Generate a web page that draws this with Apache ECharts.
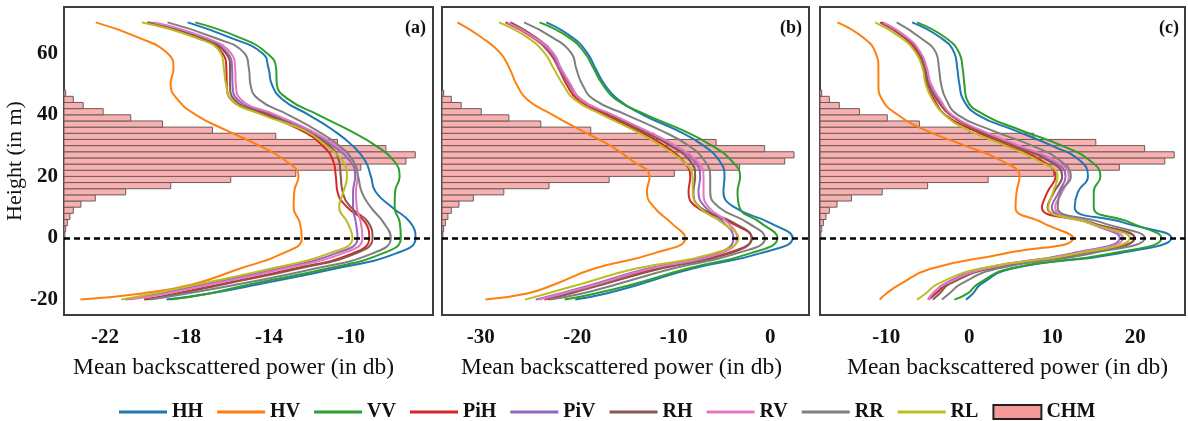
<!DOCTYPE html>
<html>
<head>
<meta charset="utf-8">
<script src="https://cdn.jsdelivr.net/npm/echarts@6/dist/echarts.min.js"></script>
<style>
  html, body { margin: 0; padding: 0; background: #fff; }
  #myChart { width: 1188px; height: 421px; }
</style>
</head>
<body>
<div id="myChart"></div>
<script>
// heights (m) at which the profiles were read
const heights = [-20, -18, -15, -10, -5, 0, 5, 10, 15, 20, 25, 30, 35, 40, 45, 50, 55, 60, 65, 70];

// panel (a) mean backscattered power (db)
const HH_a  = [-19.0, -16.9, -14.5, -10.8, -7.8, -6.85, -7.1, -8.0, -8.8, -9.03, -9.3, -9.93, -10.87, -12.07, -13.34, -13.87, -14.02, -14.32, -15.86, -17.97];
const HV_a  = [-23.2, -20.2, -17.7, -15.45, -13.33, -12.4, -12.5, -12.8, -12.77, -12.56, -13.18, -14.48, -16.1, -17.57, -18.46, -18.8, -18.66, -18.95, -20.33, -22.45];
const VV_a  = [-18.8, -16.9, -14.9, -11.2, -8.46, -7.57, -7.62, -7.87, -7.85, -7.63, -7.9, -8.8, -10.1, -11.6, -13.05, -13.62, -13.65, -14.1, -15.4, -17.6];
const PiH_a = [-20.1, -18.5, -16.35, -12.8, -9.93, -9.11, -9.3, -10.19, -10.66, -10.74, -10.87, -11.39, -12.45, -14.15, -15.86, -16.06, -16.08, -16.27, -17.41, -19.93];
const PiV_a = [-21.0, -19.3, -17.15, -13.6, -10.74, -9.68, -9.76, -9.9, -9.9, -9.8, -10.05, -10.9, -12.12, -13.83, -15.54, -15.78, -15.8, -16.02, -17.24, -19.85];
const RH_a  = [-20.0, -18.3, -16.2, -12.6, -9.76, -8.95, -9.15, -10.01, -10.41, -10.5, -10.58, -11.07, -12.28, -13.99, -15.7, -15.9, -15.9, -16.11, -17.33, -19.93];
const RV_a  = [-20.8, -19.0, -16.8, -13.3, -10.41, -9.44, -9.52, -9.72, -9.76, -9.68, -9.9, -10.74, -12.0, -13.67, -15.37, -15.62, -15.65, -15.86, -17.08, -19.6];
const RR_a  = [-19.8, -18.0, -15.5, -11.8, -8.95, -8.06, -8.41, -9.04, -9.48, -9.65, -9.89, -10.58, -11.7, -13.06, -14.5, -14.91, -14.98, -15.2, -16.65, -18.95];
const RL_a  = [-21.2, -19.64, -17.46, -13.93, -11.07, -9.93, -10.17, -10.58, -10.37, -10.2, -10.41, -11.23, -12.3, -14.32, -15.86, -16.1, -16.2, -16.35, -17.57, -20.2];

// panel (b)
const HH_b  = [-20.2, -17.0, -13.5, -8.15, -1.07, 2.31, -0.1, -3.73, -4.86, -4.75, -5.26, -6.93, -9.7, -13.2, -15.8, -17.2, -18.1, -18.95, -20.45, -23.2];
const HV_b  = [-29.5, -25.2, -22.3, -18.3, -12.09, -8.82, -10.3, -12.05, -12.78, -12.5, -14.27, -16.57, -19.64, -22.54, -25.19, -26.3, -27.0, -27.95, -29.85, -32.4];
const VV_b  = [-21.3, -18.1, -14.2, -8.65, -2.1, 0.73, -1.03, -3.2, -3.4, -3.13, -4.0, -6.06, -9.1, -12.85, -16.0, -17.4, -18.3, -19.2, -20.8, -23.9];
const PiH_b = [-23.4, -21.06, -17.6, -11.78, -4.51, -1.93, -4.1, -7.61, -8.47, -8.3, -9.06, -10.99, -13.82, -17.02, -19.95, -21.13, -21.92, -22.85, -24.57, -27.43];
const PiV_b = [-24.3, -21.8, -18.3, -12.81, -5.54, -3.82, -4.8, -6.75, -7.44, -7.27, -7.89, -10.03, -13.13, -16.5, -19.68, -20.88, -21.85, -22.68, -24.4, -26.9];
const RH_b  = [-23.0, -20.7, -17.26, -11.43, -4.16, -1.93, -3.82, -7.27, -7.96, -7.79, -8.3, -10.37, -13.47, -16.68, -19.61, -20.78, -21.68, -22.5, -24.23, -26.9];
const RV_b  = [-24.0, -21.47, -17.95, -12.47, -5.2, -3.46, -4.4, -6.4, -6.92, -6.92, -7.61, -9.85, -12.96, -16.3, -19.68, -20.71, -21.68, -22.5, -24.4, -27.26];
const RR_b  = [-22.8, -19.5, -15.9, -10.2, -3.48, -0.55, -2.37, -5.33, -6.23, -6.23, -6.8, -8.47, -11.4, -14.9, -18.3, -19.5, -20.1, -20.6, -22.5, -25.5];
const RL_b  = [-25.4, -23.1, -19.68, -14.03, -5.89, -3.3, -5.0, -7.37, -8.03, -8.06, -9.13, -11.33, -14.15, -17.4, -20.3, -21.5, -22.44, -23.37, -25.09, -28.1];

// panel (c)
const HH_c  = [-0.4, 0.44, 1.4, 5.05, 17.93, 24.36, 18.6, 12.7, 13.1, 14.3, 13.4, 9.91, 5.4, 1.0, -0.75, -1.2, -1.45, -1.8, -3.45, -6.9];
const HV_c  = [-10.8, -10.0, -8.33, -4.68, 4.29, 12.52, 8.8, 5.57, 5.7, 6.06, 3.93, -0.53, -5.3, -8.63, -10.52, -10.96, -10.96, -11.28, -12.76, -15.9];
const VV_c  = [-1.8, -0.2, 1.0, 4.83, 17.13, 23.15, 19.4, 15.0, 15.0, 15.8, 14.6, 11.15, 6.2, 1.8, -0.3, -0.6, -0.8, -1.2, -2.85, -6.3];
const PiH_c = [-4.9, -4.01, -2.66, 2.03, 13.92, 19.94, 14.4, 8.75, 9.43, 10.39, 8.79, 4.77, 0.48, -2.93, -4.25, -5.14, -5.5, -6.22, -7.83, -10.76];
const PiV_c = [-5.0, -4.33, -3.06, 1.44, 12.32, 18.13, 14.32, 9.95, 10.79, 11.6, 9.99, 5.57, 1.0, -2.33, -3.73, -4.82, -5.34, -6.02, -7.63, -10.56];
const RH_c  = [-4.4, -3.57, -2.44, 2.43, 14.32, 19.94, 14.8, 9.43, 10.23, 11.19, 9.59, 5.37, 0.96, -2.33, -3.93, -4.94, -5.34, -6.02, -7.63, -10.56];
const RV_c  = [-4.9, -4.45, -2.91, 1.84, 12.72, 18.53, 14.52, 10.35, 11.19, 12.0, 10.39, 5.98, 1.4, -2.13, -3.53, -4.62, -5.1, -5.82, -7.43, -10.36];
const RR_c  = [-3.3, -2.41, -1.06, 3.27, 14.72, 21.15, 16.0, 10.65, 11.0, 12.24, 11.0, 7.55, 2.65, -1.4, -2.8, -3.4, -3.65, -4.0, -5.9, -8.75];
const RL_c  = [-6.3, -5.26, -3.86, 1.22, 13.12, 19.34, 14.24, 9.51, 10.11, 10.63, 8.39, 4.37, -0.12, -3.01, -4.46, -5.26, -5.62, -6.42, -8.23, -11.36];

// canopy height model histogram: 2 m bins, relative frequency (%)
const chmLow  = [0, 2, 4, 6, 8, 10, 12, 14, 16, 18, 20, 22, 24, 26, 28, 30, 32, 34, 36, 38, 40, 42, 44, 46];
const chmFreq = [0.03, 0.06, 0.12, 0.21, 0.33, 0.6, 1.11, 2.19, 3.79, 5.92, 8.23, 10.54, 12.14, 12.47, 11.43, 9.71, 7.52, 5.27, 3.5, 2.37, 1.39, 0.68, 0.33, 0.06];

// tick labels
const xTicksA = [-22, -18, -14, -10];
const xTicksB = [-30, -20, -10, 0];
const xTicksC = [-10, 0, 10, 20];
const yTicks  = [-20, 0, 20, 40, 60];

const names  = ['HH', 'HV', 'VV', 'PiH', 'PiV', 'RH', 'RV', 'RR', 'RL'];
const colors = ['#1f77b4', '#ff7f0e', '#2ca02c', '#d62728', '#9467bd', '#8c564b', '#e377c2', '#7f7f7f', '#bcbd22'];

const FONT = 'Liberation Serif';
const panels = [
  { tag: '(a)', min: -24, max: -6, ticks: xTicksA, left: 64,  width: 369, tagRight: 762, chmMax: 13.1, namePad: [0, 30, 0, 0],
    lines: [HH_a, HV_a, VV_a, PiH_a, PiV_a, RH_a, RV_a, RR_a, RL_a] },
  { tag: '(b)', min: -34, max: 4,  ticks: xTicksB, left: 442, width: 367, tagRight: 386, chmMax: 13.0, namePad: [0, 8, 0, 0],
    lines: [HH_b, HV_b, VV_b, PiH_b, PiV_b, RH_b, RV_b, RR_b, RL_b] },
  { tag: '(c)', min: -18, max: 26, ticks: xTicksC, left: 820, width: 365, tagRight: 9, chmMax: 12.85, namePad: [0, 0, 0, 10],
    lines: [HH_c, HV_c, VV_c, PiH_c, PiV_c, RH_c, RV_c, RR_c, RL_c] }
];

function renderChm(params, api) {
  const lo = api.value(0), hi = api.value(1), f = api.value(2);
  const p0 = api.coord([0, hi]);
  const p1 = api.coord([f, lo]);
  return {
    type: 'rect',
    shape: { x: p0[0], y: p0[1], width: p1[0] - p0[0], height: p1[1] - p0[1] },
    style: { fill: '#f8b1b1', stroke: '#6e5a5a', lineWidth: 1 }
  };
}

const labelStyle = { fontFamily: FONT, fontSize: 21, fontWeight: 'bold', color: '#111' };

let grid = [], xAxis = [], yAxis = [], series = [], title = [];
panels.forEach((p, i) => {
  grid.push({ left: p.left, width: p.width, top: 7, bottom: 106, show: true,
              borderColor: '#3d3d3d', borderWidth: 2, backgroundColor: 'transparent' });
  title.push({ text: p.tag, right: p.tagRight, top: 19, padding: 0,
               textStyle: { fontFamily: FONT, fontSize: 18, fontWeight: 'bold', color: '#111' } });
  xAxis.push({
    gridIndex: i, type: 'value', min: p.min, max: p.max,
    axisLine: { show: false }, axisTick: { show: false }, splitLine: { show: false },
    axisLabel: Object.assign({ customValues: p.ticks, margin: 12 }, labelStyle),
    name: 'Mean backscattered power (in db)', nameLocation: 'middle', nameGap: 41,
    nameTextStyle: { fontFamily: FONT, fontSize: 23.5, color: '#111', padding: p.namePad }
  });
  yAxis.push({
    gridIndex: i, type: 'value', min: -25, max: 75,
    axisLine: { show: false }, axisTick: { show: false }, splitLine: { show: false },
    axisLabel: Object.assign({ show: i === 0, customValues: yTicks, margin: 6 }, labelStyle),
    name: i === 0 ? 'Height (in m)' : '', nameLocation: 'middle', nameGap: 26,
    nameTextStyle: { fontFamily: FONT, fontSize: 22, color: '#111' }
  });
});
// hidden frequency axes for the CHM bars
panels.forEach((p, i) => {
  xAxis.push({ gridIndex: i, type: 'value', min: 0, max: p.chmMax, show: false });
});

panels.forEach((p, i) => {
  series.push({
    name: 'CHM', type: 'custom', xAxisIndex: 3 + i, yAxisIndex: i,
    renderItem: renderChm, encode: { x: 2, y: [0, 1] },
    itemStyle: { color: '#f8a3a3' }, z: 1,
    data: chmLow.map((lo, k) => [lo, lo + 2, chmFreq[k]])
  });
  p.lines.forEach((vals, k) => {
    const s = {
      name: names[k], type: 'line', xAxisIndex: i, yAxisIndex: i,
      symbol: 'none', smooth: 0.5, z: 3,
      lineStyle: { width: 2, color: colors[k] }, itemStyle: { color: colors[k] },
      data: heights.map((h, j) => [vals[j], h])
    };
    if (k === p.lines.length - 1) {
      s.markLine = {
        silent: true, symbol: ['none', 'none'], label: { show: false }, animation: false,
        lineStyle: { color: '#000', type: [6, 4], width: 2.5 },
        data: [{ yAxis: 0 }]
      };
    }
    series.push(s);
  });
});

// plain line swatches in the legend (no symbol dot)
const lineIcon = 'path://M0,0H48V3H0Z';
let legendData = names.map(n => ({ name: n, icon: lineIcon }));
legendData.push({ name: 'CHM', icon: 'rect', itemStyle: { color: '#f49a9a', borderColor: '#222', borderWidth: 2 } });

let myChart = echarts.init(document.getElementById('myChart'));
myChart.setOption({
  animation: false,
  backgroundColor: '#fff',
  title: title,
  legend: {
    top: 397, left: 114, itemWidth: 48, itemHeight: 14, itemGap: 14,
    textStyle: { fontFamily: FONT, fontSize: 20, fontWeight: 'bold', color: '#111' },
    data: legendData
  },
  grid: grid,
  xAxis: xAxis,
  yAxis: yAxis,
  series: series
});
</script>
</body>
</html>
